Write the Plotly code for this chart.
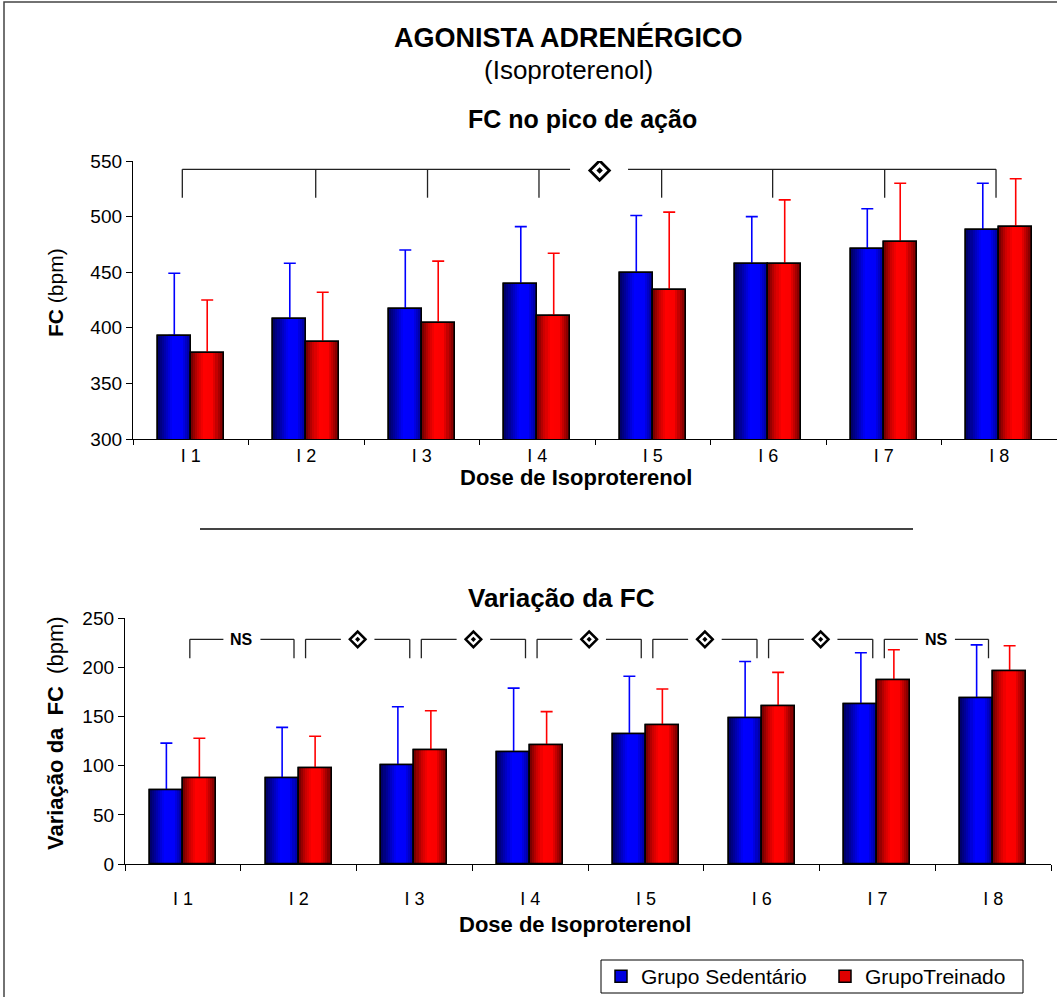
import numpy as np
import plotly.graph_objects as go

# ---- data -------------------------------------------------------------
doses = ["I 1", "I 2", "I 3", "I 4", "I 5", "I 6", "I 7", "I 8"]

# FC at peak of action (bpm), mean and upper SD
fc_sed = [393, 408, 417, 439, 449, 457, 471, 488]
fc_sed_sd = [56, 50, 53, 52, 52, 43, 36, 42]
fc_tre = [377, 387, 404, 411, 434, 457, 477, 491]
fc_tre_sd = [48, 45, 56, 56, 70, 58, 53, 43]

# FC variation (bpm), mean and upper SD
dfc_sed = [75, 87, 100, 114, 132, 148, 163, 169]
dfc_sed_sd = [48, 52, 60, 65, 59, 58, 52, 54]
dfc_tre = [87, 97, 116, 121, 141, 160, 187, 196]
dfc_tre_sd = [41, 33, 40, 34, 37, 35, 31, 26]

# significance marks between consecutive doses (variation chart)
dfc_sig = ["NS", "dia", "dia", "dia", "dia", "dia", "NS"]

group_names = ["Grupo Sedentário", "GrupoTreinado"]

# ---- layout helpers ---------------------------------------------------
W, H = 1057, 997
FONT = "Liberation Sans, Arial, sans-serif"


def px_x(x):
    return x / W


def px_y(y):
    return 1 - y / H


BW = 0.285          # width of one bar, in category units
NSTRIP = 16         # strips used to shade each bar

BLUE_STOPS = [(0.0, (0, 0, 95)), (0.18, (0, 0, 160)), (0.45, (0, 0, 255)),
              (0.72, (0, 0, 250)), (1.0, (0, 0, 130))]
RED_STOPS = [(0.0, (105, 0, 0)), (0.2, (200, 0, 0)), (0.4, (255, 0, 0)),
             (0.66, (250, 0, 0)), (1.0, (95, 0, 0))]


def shade(stops, t):
    pos = [s[0] for s in stops]
    rgb = [np.interp(t, pos, [s[1][i] for s in stops]) for i in range(3)]
    return "rgb(%d,%d,%d)" % tuple(int(round(c)) for c in rgb)


fig = go.Figure()


def add_series(vals, sd, xaxis, yaxis, offset, stops, mid, err_col, name, legend_id):
    # base bar (carries legend entry and error bar)
    base = dict(
        x=doses, y=vals, xaxis=xaxis, yaxis=yaxis, name=name,
        width=BW, offset=offset, legendgroup=name,
        showlegend=legend_id is not None,
        marker=dict(color=mid, line=dict(color="black", width=1.5)),
        error_y=dict(type="data", array=sd, arrayminus=[0] * len(sd),
                     symmetric=False, color=err_col, thickness=1.6, width=6),
        hoverinfo="skip")
    if legend_id is not None:
        base["legend"] = legend_id
    fig.add_trace(go.Bar(**base))
    # horizontal shading strips
    step = BW / NSTRIP
    for k in range(NSTRIP):
        t = (k + 0.5) / NSTRIP
        fig.add_trace(go.Bar(
            x=doses, y=vals, xaxis=xaxis, yaxis=yaxis,
            width=step * (1.8 if k < NSTRIP - 1 else 1.0),
            offset=offset + k * step, showlegend=False,
            marker=dict(color=shade(stops, t), line=dict(width=0)),
            hoverinfo="skip"))
    # outline on top
    fig.add_trace(go.Bar(
        x=doses, y=vals, xaxis=xaxis, yaxis=yaxis, width=BW, offset=offset,
        showlegend=False, marker=dict(color="rgba(0,0,0,0)",
                                      line=dict(color="black", width=1.5)),
        hoverinfo="skip"))


add_series(fc_sed, fc_sed_sd, "x", "y", -BW, BLUE_STOPS, "#0000e0", "#0000ff",
           group_names[0], "legend")
add_series(fc_tre, fc_tre_sd, "x", "y", 0.0, RED_STOPS, "#e00000", "#ff0000",
           group_names[1], "legend2")
add_series(dfc_sed, dfc_sed_sd, "x2", "y2", -BW, BLUE_STOPS, "#0000e0", "#0000ff",
           group_names[0], None)
add_series(dfc_tre, dfc_tre_sd, "x2", "y2", 0.0, RED_STOPS, "#e00000", "#ff0000",
           group_names[1], None)

shapes = []
line_k = dict(color="#222", width=1.3)

# ---- bracket over the whole dose range (upper chart) ------------------
TOP_Y, TOP_DROP = 542.5, 517
top_ticks = [-0.073, 1.082, 2.050, 3.015, 4.077, 5.038, 6.008, 6.972]
top_gap = (3.284, 3.786)
top_mark_x = 3.54
shapes.append(dict(type="line", xref="x", yref="y", x0=top_ticks[0], x1=top_gap[0],
                   y0=TOP_Y, y1=TOP_Y, line=line_k))
shapes.append(dict(type="line", xref="x", yref="y", x0=top_gap[1], x1=top_ticks[-1],
                   y0=TOP_Y, y1=TOP_Y, line=line_k))
for tx in top_ticks:
    shapes.append(dict(type="line", xref="x", yref="y", x0=tx, x1=tx,
                       y0=TOP_Y, y1=TOP_DROP, line=line_k))

# ---- brackets between consecutive doses (lower chart) -----------------
BOT_Y, BOT_DROP = 228.6, 209.3
mark_x = []
annotations = []
for i, sig in enumerate(dfc_sig):
    x0, x1, xm = i + 0.06, i + 0.96, i + 0.51
    half = 0.16 if sig == "NS" else 0.145
    shapes.append(dict(type="line", xref="x2", yref="y2", x0=x0, x1=xm - half,
                       y0=BOT_Y, y1=BOT_Y, line=line_k))
    shapes.append(dict(type="line", xref="x2", yref="y2", x0=xm + half, x1=x1,
                       y0=BOT_Y, y1=BOT_Y, line=line_k))
    for xx in (x0, x1):
        shapes.append(dict(type="line", xref="x2", yref="y2", x0=xx, x1=xx,
                           y0=BOT_Y, y1=BOT_DROP, line=line_k))
    if sig == "NS":
        annotations.append(dict(x=xm, y=BOT_Y, xref="x2", yref="y2", text="<b>NS</b>",
                                showarrow=False, font=dict(size=16, color="black")))
    else:
        mark_x.append(xm)

# diamond marks (drawn on linear overlay axes that mirror the category axes)
fig.add_trace(go.Scatter(x=[top_mark_x], y=[TOP_Y - 1], xaxis="x3", yaxis="y",
                         mode="markers", showlegend=False, hoverinfo="skip",
                         marker=dict(symbol="diamond-open", size=15, color="black",
                                     line=dict(width=2.8, color="black"))))
fig.add_trace(go.Scatter(x=[top_mark_x], y=[TOP_Y - 1], xaxis="x3", yaxis="y",
                         mode="markers", showlegend=False, hoverinfo="skip",
                         marker=dict(symbol="diamond", size=5, color="black")))
fig.add_trace(go.Scatter(x=mark_x, y=[BOT_Y] * len(mark_x), xaxis="x4", yaxis="y2",
                         mode="markers", showlegend=False, hoverinfo="skip",
                         marker=dict(symbol="diamond-open", size=12, color="black",
                                     line=dict(width=2.5, color="black"))))
fig.add_trace(go.Scatter(x=mark_x, y=[BOT_Y] * len(mark_x), xaxis="x4", yaxis="y2",
                         mode="markers", showlegend=False, hoverinfo="skip",
                         marker=dict(symbol="diamond", size=4, color="black")))

# separator between the two charts, legend frame and the outer frame
shapes.append(dict(type="line", xref="paper", yref="paper", x0=px_x(200), x1=px_x(913),
                   y0=px_y(529), y1=px_y(529), line=dict(color="#444", width=2)))
shapes.append(dict(type="rect", xref="paper", yref="paper", x0=px_x(601), x1=px_x(1023),
                   y0=px_y(993), y1=px_y(960), line=dict(color="black", width=1)))
shapes.append(dict(type="rect", xref="paper", yref="paper", x0=px_x(4), x1=1.05,
                   y0=-0.05, y1=px_y(2), line=dict(color="#444", width=1.5)))


def text(x, y, s, size, angle=0):
    return dict(x=px_x(x), y=px_y(y), xref="paper", yref="paper", text=s,
                showarrow=False, textangle=angle, xanchor="center", yanchor="middle",
                font=dict(size=size, color="black", family=FONT))


annotations += [
    text(568, 37, "<b>AGONISTA ADRENÉRGICO</b>", 27),
    text(568, 70, "(Isoproterenol)", 26),
    text(582, 119, "<b>FC no pico de ação</b>", 25),
    text(576, 478, "<b>Dose de Isoproterenol</b>", 22),
    text(55, 293, "<b>FC</b> (bpm)", 21, -90),
    text(561, 598, "<b>Variação da FC</b>", 26),
    text(575, 924, "<b>Dose de Isoproterenol</b>", 22),
    text(55, 733, "<b>Variação da\u00a0 FC</b>\u00a0 (bpm)", 22, -90),
]

axis_common = dict(showline=True, linecolor="black", linewidth=1.3, ticks="outside",
                   ticklen=6, tickcolor="black", tickwidth=1.2, showgrid=False,
                   zeroline=False, automargin=False,
                   tickfont=dict(size=18, color="black", family=FONT))

legend_common = dict(orientation="h", xanchor="left", yanchor="middle",
                     y=px_y(976.5), borderwidth=0, bgcolor="rgba(0,0,0,0)",
                     font=dict(size=21, color="black", family=FONT))

fig.update_layout(
    width=W, height=H, margin=dict(l=0, r=0, t=0, b=0),
    template="none", paper_bgcolor="white", plot_bgcolor="white",
    font=dict(family=FONT, color="black"),
    barmode="overlay", bargap=0,
    xaxis=dict(axis_common, domain=[px_x(133), 1.0], anchor="y", type="category",
               range=[-0.5, 7.5], tickson="boundaries", ticklen=5),
    yaxis=dict(axis_common, domain=[px_y(439), px_y(161)], anchor="x",
               range=[300, 550], tickvals=[300, 350, 400, 450, 500, 550],
               tickfont=dict(size=19, color="black", family=FONT)),
    xaxis2=dict(axis_common, domain=[px_x(125), px_x(1051)], anchor="y2",
                type="category", range=[-0.5, 7.5], tickson="boundaries",
                ticklabelstandoff=18),
    yaxis2=dict(axis_common, domain=[px_y(864), px_y(618.3)], anchor="x2",
                range=[0, 250], tickvals=[0, 50, 100, 150, 200, 250],
                tickfont=dict(size=19, color="black", family=FONT)),
    xaxis3=dict(overlaying="x", range=[-0.5, 7.5], visible=False, type="linear"),
    xaxis4=dict(overlaying="x2", range=[-0.5, 7.5], visible=False, type="linear"),
    shapes=shapes, annotations=annotations,
    legend=dict(legend_common, x=px_x(601)),
    legend2=dict(legend_common, x=px_x(825)),
)

fig.write_html("out.html")
